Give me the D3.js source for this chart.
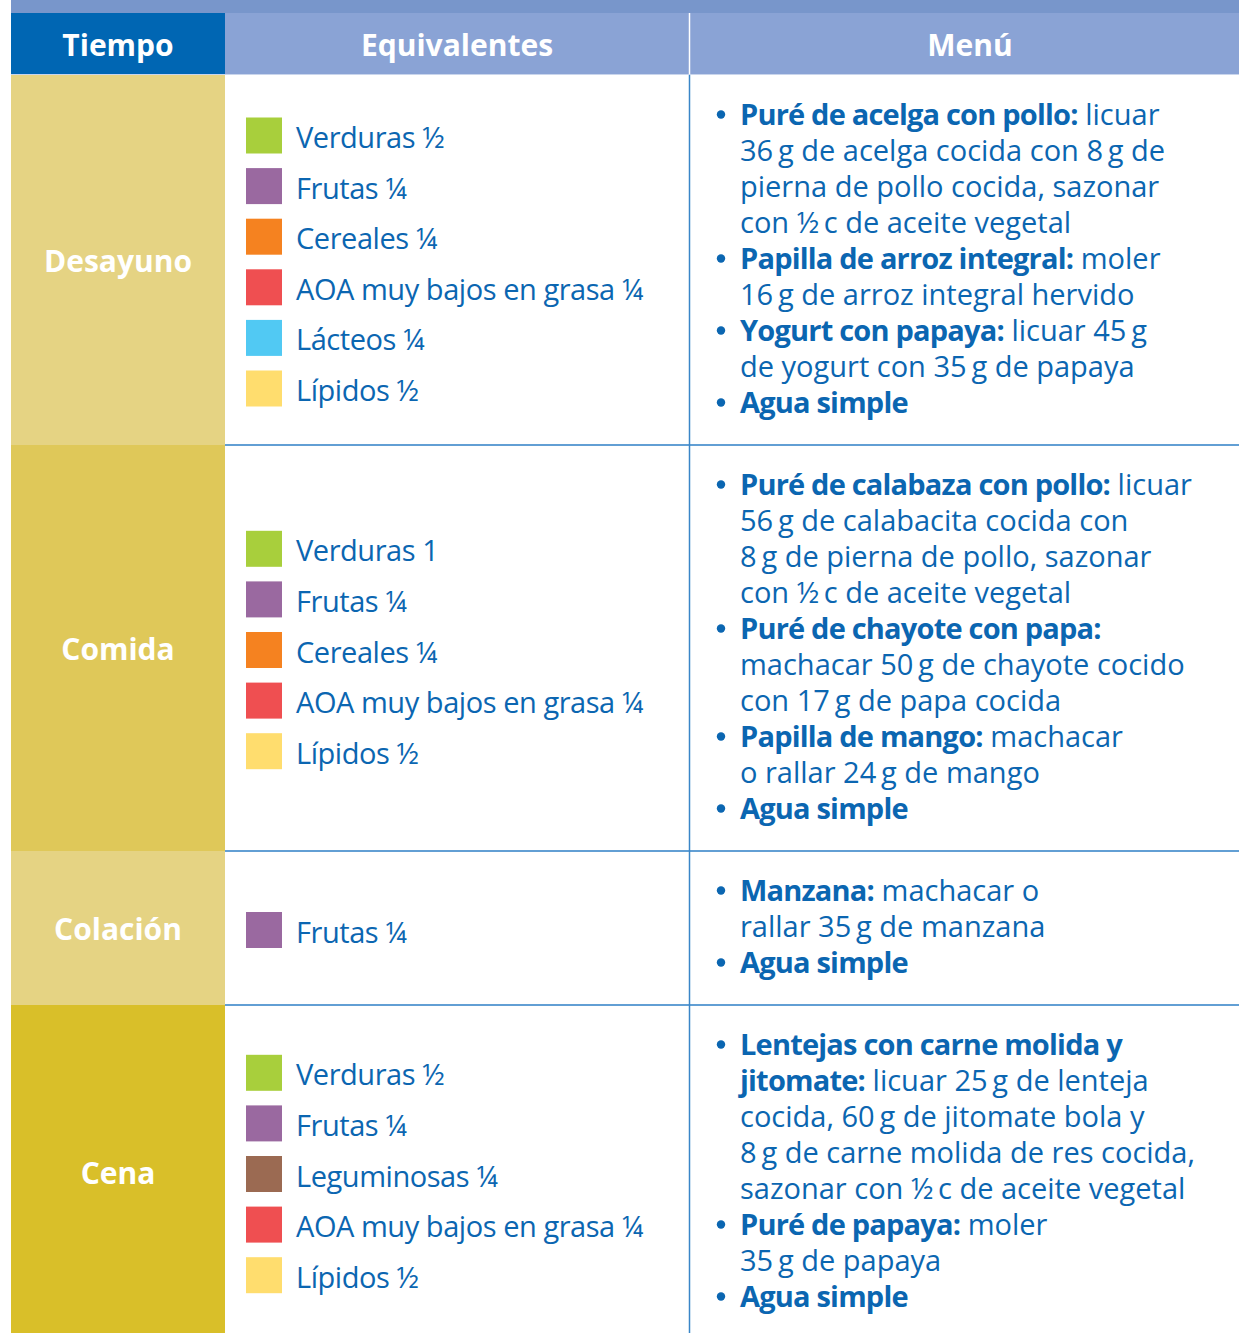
<!DOCTYPE html>
<html><head><meta charset="utf-8">
<script src="https://cdn.jsdelivr.net/npm/d3@7"></script>
<style>
html,body{margin:0;padding:0;background:#fff;}
svg{display:block;font-family:"Open Sans",sans-serif;}
</style></head>
<body>
<script>
// ---------- DATA ----------
const headers = ["Tiempo", "Equivalentes", "Menú"];
const tiempos = ["Desayuno", "Comida", "Colación", "Cena"];

const equivDesayuno = [["verduras","Verduras ½"],["frutas","Frutas ¼"],["cereales","Cereales ¼"],["aoa","AOA muy bajos en grasa ¼"],["lacteos","Lácteos ¼"],["lipidos","Lípidos ½"]];
const equivComida   = [["verduras","Verduras 1"],["frutas","Frutas ¼"],["cereales","Cereales ¼"],["aoa","AOA muy bajos en grasa ¼"],["lipidos","Lípidos ½"]];
const equivColacion = [["frutas","Frutas ¼"]];
const equivCena     = [["verduras","Verduras ½"],["frutas","Frutas ¼"],["leguminosas","Leguminosas ¼"],["aoa","AOA muy bajos en grasa ¼"],["lipidos","Lípidos ½"]];

// each item: list of lines, each line: [bold, regular]
const menuDesayuno = [
  [["Puré de acelga con pollo:", " licuar"], ["", "36\u2009g de acelga cocida con 8\u2009g de"], ["", "pierna de pollo cocida, sazonar"], ["", "con ½\u2009c de aceite vegetal"]],
  [["Papilla de arroz integral:", " moler"], ["", "16\u2009g de arroz integral hervido"]],
  [["Yogurt con papaya:", " licuar 45\u2009g"], ["", "de yogurt con 35\u2009g de papaya"]],
  [["Agua simple", ""]]
];
const menuComida = [
  [["Puré de calabaza con pollo:", " licuar"], ["", "56\u2009g de calabacita cocida con"], ["", "8\u2009g de pierna de pollo, sazonar"], ["", "con ½\u2009c de aceite vegetal"]],
  [["Puré de chayote con papa:", ""], ["", "machacar 50\u2009g de chayote cocido"], ["", "con 17\u2009g de papa cocida"]],
  [["Papilla de mango:", " machacar"], ["", "o rallar 24\u2009g de mango"]],
  [["Agua simple", ""]]
];
const menuColacion = [
  [["Manzana:", " machacar o"], ["", "rallar 35\u2009g de manzana"]],
  [["Agua simple", ""]]
];
const menuCena = [
  [["Lentejas con carne molida y", ""], ["jitomate:", " licuar 25\u2009g de lenteja"], ["", "cocida, 60\u2009g de jitomate bola y"], ["", "8\u2009g de carne molida de res cocida,"], ["", "sazonar con ½\u2009c de aceite vegetal"]],
  [["Puré de papaya:", " moler"], ["", "35\u2009g de papaya"]],
  [["Agua simple", ""]]
];

const equivalentes = [equivDesayuno, equivComida, equivColacion, equivCena];
const menus = [menuDesayuno, menuComida, menuColacion, menuCena];

// ---------- STYLES ----------
const W = 1239, H = 1333;
const swatchColors = {verduras:"#a8cf3c", frutas:"#9a69a0", cereales:"#f58220", aoa:"#ef4f51", lacteos:"#51c9f3", lipidos:"#ffdd6e", leguminosas:"#9b6a52"};
const rowColors = ["#e5d383", "#dfc859", "#e5d383", "#d9bf29"];
const blue = "#0b66b1";

const svg = d3.select("body").append("svg").attr("width", W).attr("height", H);

const x = d3.scaleOrdinal().domain(headers).range([11, 225, 689]);
const colEnd = {"Tiempo":225, "Equivalentes":689, "Menú":W};
const headerShift = {"Tiempo":0, "Equivalentes":0, "Menú":6};

// top strip
svg.append("rect").attr("x", 11).attr("y", 0).attr("width", W - 11).attr("height", 13).attr("fill", "#7896cb");

// header row
const headerTop = 13, headerBottom = 74;
svg.selectAll("rect.hdr").data(headers).join("rect").attr("class","hdr")
  .attr("x", d => x(d)).attr("y", headerTop)
  .attr("width", d => colEnd[d] - x(d)).attr("height", headerBottom - headerTop)
  .attr("fill", (d,i) => i === 0 ? "#0066b3" : "#8aa3d5");
svg.selectAll("text.hdr").data(headers).join("text").attr("class","hdr")
  .attr("x", d => (x(d) + colEnd[d]) / 2 + headerShift[d]).attr("y", 44)
  .attr("text-anchor","middle").attr("dominant-baseline","central")
  .attr("fill","#fff").attr("font-weight","bold").attr("font-size", 30)
  .text(d => d);
svg.append("line").attr("x1", 689.5).attr("x2", 689.5).attr("y1", headerTop).attr("y2", headerBottom)
  .attr("stroke","#fff").attr("stroke-width",1.5);
svg.append("line").attr("x1", 11).attr("x2", W).attr("y1", 74.5).attr("y2", 74.5)
  .attr("stroke","#c9d5ec").attr("stroke-width",1);

// row layout from number of menu lines
const lineH = 36;
const rowHeights = menus.map(m => d3.sum(m, it => it.length) * lineH + 46);
const rowTops = [];
let acc = 75;
rowHeights.forEach(h => { rowTops.push(acc); acc += h; });

const rows = svg.selectAll("g.row").data(tiempos).join("g").attr("class","row");

rows.append("rect").attr("x", 11).attr("y", (d,i) => rowTops[i]).attr("width", 214)
  .attr("height", (d,i) => rowHeights[i]).attr("fill", (d,i) => rowColors[i]);
rows.append("text").attr("x", 118).attr("y", (d,i) => rowTops[i] + rowHeights[i]/2)
  .attr("text-anchor","middle").attr("dominant-baseline","central")
  .attr("fill","#fff").attr("font-weight","bold").attr("font-size", 30)
  .text(d => d);

// row separators
rows.filter((d,i) => i < tiempos.length - 1).append("line")
  .attr("x1", 225).attr("x2", W)
  .attr("y1", (d,i) => rowTops[i] + rowHeights[i]).attr("y2", (d,i) => rowTops[i] + rowHeights[i])
  .attr("stroke","#2e7fc6").attr("stroke-width",1.6);

// vertical divider
svg.append("line").attr("x1", 689.5).attr("x2", 689.5).attr("y1", 75).attr("y2", H)
  .attr("stroke","#3a86c8").attr("stroke-width",1.5);

// equivalentes
const eqStep = 50.6;
rows.each(function(d, i) {
  const g = d3.select(this);
  const items = equivalentes[i];
  const cy = rowTops[i] + rowHeights[i]/2;
  const y = d3.scaleLinear().domain([0, items.length - 1]).range([cy - (items.length-1)*eqStep/2, cy + (items.length-1)*eqStep/2]);
  const pos = k => items.length === 1 ? cy + 2 : y(k) + 2;
  const eg = g.selectAll("g.eq").data(items).join("g").attr("class","eq");
  eg.append("rect").attr("x", 246).attr("y", (e,k) => pos(k) - 18).attr("width", 36).attr("height", 36)
    .attr("fill", e => swatchColors[e[0]]);
  eg.append("text").attr("x", 296).attr("y", (e,k) => pos(k) + 1)
    .attr("dominant-baseline","central").attr("fill", blue).attr("font-size", 29)
    .attr("letter-spacing", -0.45)
    .text(e => e[1]);

  // menu
  const lines = [];
  menus[i].forEach(item => item.forEach((ln, j) => lines.push({ln, first: j === 0, idx: lines.length})));
  const top = rowTops[i] + 37.5;
  const mg = g.selectAll("g.mn").data(lines).join("g").attr("class","mn");
  mg.filter(l => l.first).append("circle").attr("cx", 721).attr("cy", l => top + l.idx*lineH + 2).attr("r", 4.2).attr("fill", blue);
  const t = mg.append("text").attr("x", 740).attr("y", l => top + l.idx*lineH)
    .attr("dominant-baseline","central").attr("fill", blue).attr("font-size", 29);
  t.append("tspan").attr("font-weight", 700).attr("letter-spacing", -0.8).text(l => l.ln[0]);
  t.append("tspan").text(l => l.ln[1]);
});
</script>
</body></html>
